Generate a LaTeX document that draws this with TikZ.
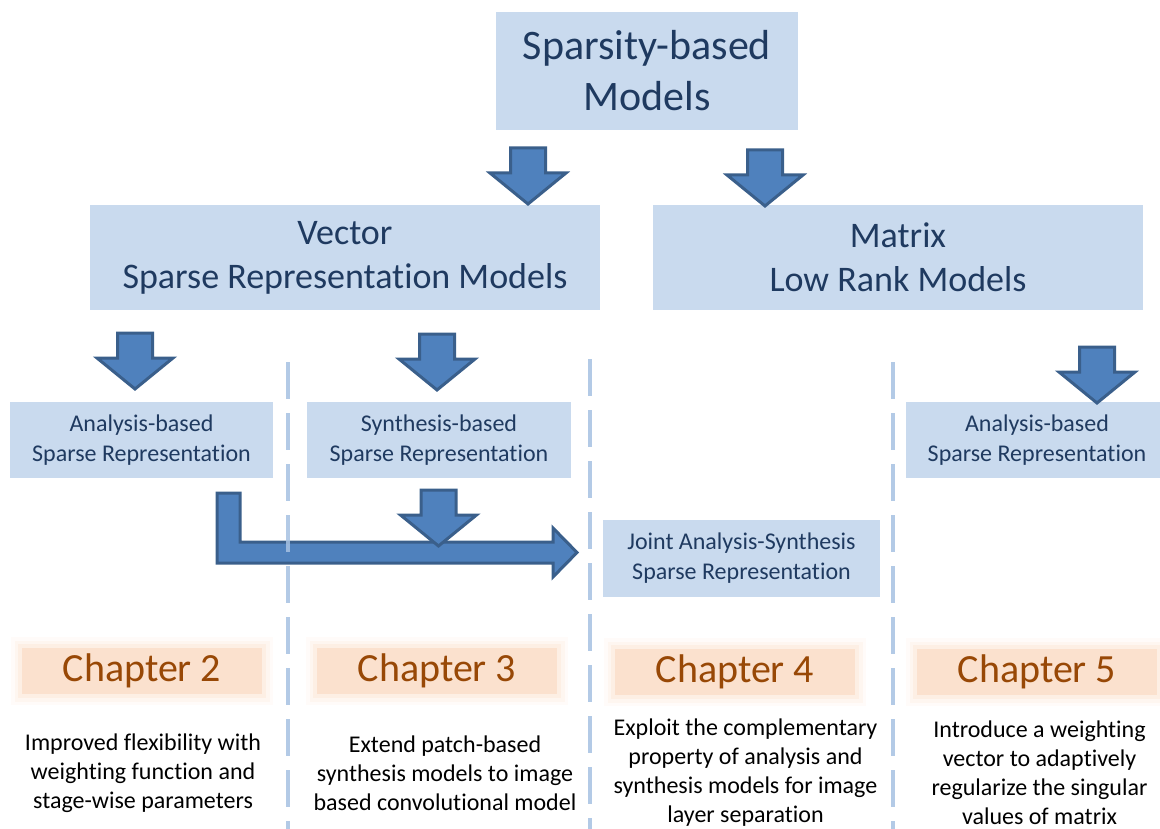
\documentclass[tikz,border=0pt]{standalone}
\usepackage{fontspec}
\setmainfont{Carlito}[Ligatures={NoCommon,NoContextual,NoRequired}]
\usetikzlibrary{positioning}
\definecolor{boxBlue}{HTML}{C9DAEE}
\definecolor{boxText}{HTML}{1F3A60}
\definecolor{arrFill}{HTML}{4F81BD}
\definecolor{arrLine}{HTML}{3A5F8B}
\definecolor{sepBlue}{HTML}{A6C1E2}
\definecolor{chapFill}{HTML}{FBE1CE}
\definecolor{chapText}{HTML}{984806}
\tikzset{
  modelbox/.style={fill=boxBlue, text=boxText, align=center, inner sep=0pt},
  bigtxt/.style={font=\fontsize{36}{44}\selectfont},
  smalltxt/.style={font=\fontsize{24}{30}\selectfont, minimum height=76pt},
  chapbox/.style={fill=chapFill, text=chapText, inner sep=0pt, minimum width=240pt, minimum height=46pt,
    font=\fontsize{40}{48}\selectfont,
    preaction={draw=chapFill, line width=22pt, draw opacity=0.12},
    preaction={draw=chapFill, line width=15pt, draw opacity=0.2},
    preaction={draw=chapFill, line width=8pt, draw opacity=0.35}},
  desc/.style={align=center, font=\fontsize{24}{29}\selectfont, inner sep=0pt},
  blockarr/.style={fill=arrFill, draw=arrLine, line width=3pt, line join=miter},
  sepline/.style={sepBlue, line width=4pt, dash pattern=on 37pt off 14pt, draw opacity=0.85},
  downarr/.pic={\path[blockarr] (-17.5,0) -- (17.5,0) -- (17.5,25) -- (38,25) -- (0,56)
    -- (-38,25) -- (-17.5,25) -- cycle;},
}
\begin{document}
\begin{tikzpicture}[x=1pt, y=-1pt]
  \useasboundingbox (0,0) rectangle (1160,829);
  % model boxes
  \node[modelbox, minimum width=302pt, minimum height=118pt, font=\fontsize{42}{51}\selectfont] (spars)
    at (647,71) {Sparsity-based\\Models};
  \node[modelbox, bigtxt, minimum width=510pt, minimum height=105pt] (vec) at (345,257.5)
    {Vector\\Sparse Representation Models};
  \node[modelbox, bigtxt, minimum width=490pt, minimum height=105pt] (mat) at (898,257.5)
    {Matrix\\Low Rank Models};
  \node[modelbox, smalltxt, minimum width=263pt] (ana) at (141.5,440)
    {Analysis-based\\Sparse Representation};
  \node[modelbox, smalltxt, minimum width=264pt] (syn) at (439,440)
    {Synthesis-based\\Sparse Representation};
  \node[modelbox, smalltxt, minimum width=262pt] (anr) at (1037,440)
    {Analysis-based\\Sparse Representation};
  \node[modelbox, smalltxt, minimum width=277pt, minimum height=77pt] (joint) at (741.5,558.5)
    {Joint Analysis-Synthesis\\Sparse Representation};

  % block arrows
  \pic at (528,148) {downarr};
  \pic at (765,150) {downarr};
  \pic at (135,333) {downarr};
  \pic at (437,334) {downarr};
  \pic at (1097,347) {downarr};
  \path[blockarr] (217,493) -- (240,493) -- (240,542) -- (553,542) -- (553,528) -- (577,552.5)
    -- (553,577) -- (553,563) -- (217,563) -- cycle;
  \pic at (438.5,490) {downarr};

  % separators
  \draw[sepline] (288,362) -- (288,829);
  \draw[sepline] (590,359) -- (590,829);
  \draw[sepline] (893,362) -- (893,829);

  % chapters
  \node[chapbox] (ch2) at (142,671) {Chapter 2};
  \node[chapbox] (ch3) at (437,671) {Chapter 3};
  \node[chapbox] (ch4) at (735,672) {Chapter 4};
  \node[chapbox] (ch5) at (1037,672) {Chapter 5};
  \node[desc] (d2) at (143,773) {Improved flexibility with\\weighting function and\\stage-wise parameters};
  \node[desc] (d3) at (445,773) {Extend patch-based\\synthesis models to image\\based convolutional model};
  \node[desc] (d4) at (745.5,773) {Exploit the complementary\\property of analysis and\\synthesis models for image\\layer separation};
  \node[desc] (d5) at (1039.5,773) {Introduce a weighting\\vector to adaptively\\regularize the singular\\values of matrix};
\end{tikzpicture}
\end{document}
